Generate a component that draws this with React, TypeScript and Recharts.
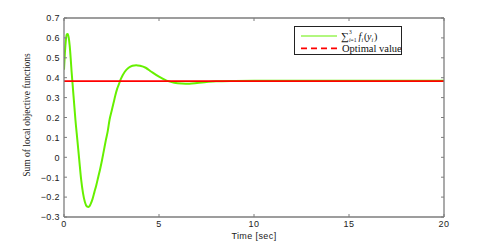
import React from 'react';
import { LineChart, Line, XAxis, YAxis } from 'recharts';

const times = [
  0, 0.05, 0.1, 0.15, 0.2, 0.25, 0.3, 0.35, 0.4, 0.45, 0.5, 0.55, 0.6, 0.7, 0.8, 0.9, 1.0,
  1.1, 1.2, 1.3, 1.4, 1.5, 1.6, 1.7, 1.8, 1.9, 2.0, 2.1, 2.2, 2.3, 2.4, 2.5, 2.6, 2.7, 2.8,
  2.9, 3.0, 3.2, 3.4, 3.6, 3.8, 4.0, 4.3, 4.6, 5.0, 5.4, 5.8, 6.2, 6.6, 7.0, 7.5, 8.0, 9.0,
  10, 12, 14, 16, 18, 20,
];
const sumValues = [
  0.44, 0.53, 0.59, 0.618, 0.62, 0.6, 0.56, 0.5, 0.43, 0.37, 0.31, 0.25, 0.19, 0.09, -0.01,
  -0.11, -0.18, -0.225, -0.247, -0.25, -0.235, -0.21, -0.175, -0.14, -0.1, -0.06, -0.015,
  0.035, 0.085, 0.13, 0.19, 0.23, 0.27, 0.31, 0.345, 0.37, 0.395, 0.43, 0.45, 0.46, 0.463,
  0.46, 0.45, 0.43, 0.405, 0.385, 0.375, 0.371, 0.37, 0.373, 0.378, 0.382, 0.384, 0.385,
  0.385, 0.385, 0.385, 0.385, 0.385,
];
const optimalValue = 0.383;
const xTicks = [0, 5, 10, 15, 20];
const yTicks = [-0.3, -0.2, -0.1, 0, 0.1, 0.2, 0.3, 0.4, 0.5, 0.6, 0.7];

const data = times.map((t, i) => ({ t, sum: sumValues[i], optimal: optimalValue }));

const AXIS = '#7d7d7d';
const GREEN = '#66f000';
const RED = '#ff0000';
const SANS = '"Liberation Sans", Arial, sans-serif';
const SERIF = '"Liberation Serif", "Times New Roman", serif';

const fmt = (v: number) => {
  const s = String(Math.round(v * 10) / 10);
  return s.startsWith('-') ? '\u2212' + s.slice(1) : s;
};

// ticks point into the plot box, labels sit outside
const BottomTick = (props: any) => {
  const { x, y, payload } = props;
  return (
    <g>
      <line x1={x} x2={x} y1={y} y2={y - 3} stroke={AXIS} strokeWidth={1} />
      <text x={x} y={y + 9.5} textAnchor="middle" fontSize={9} letterSpacing={0.4} fontFamily={SANS} fill="#222">
        {fmt(payload.value)}
      </text>
    </g>
  );
};

const TopTick = (props: any) => {
  const { x, y } = props;
  return <line x1={x} x2={x} y1={y} y2={y + 3} stroke={AXIS} strokeWidth={1} />;
};

const LeftTick = (props: any) => {
  const { x, y, payload } = props;
  return (
    <g>
      <line x1={x} x2={x + 3} y1={y} y2={y} stroke={AXIS} strokeWidth={1} />
      <text x={x - 4} y={y + 3.3} textAnchor="end" fontSize={9} letterSpacing={0.4} fontFamily={SANS} fill="#222">
        {fmt(payload.value)}
      </text>
    </g>
  );
};

const RightTick = (props: any) => {
  const { x, y } = props;
  return <line x1={x} x2={x - 3} y1={y} y2={y} stroke={AXIS} strokeWidth={1} />;
};

export default function App() {
  return (
    <div style={{ position: 'absolute', left: 0, top: 0, width: 491, height: 245, background: '#fff' }}>
      <LineChart width={491} height={245} data={data} margin={{ top: 17, right: 46, bottom: 27, left: 63 }}>
        <XAxis
          xAxisId="bottom"
          dataKey="t"
          type="number"
          domain={[0, 20]}
          ticks={xTicks}
          height={1}
          tickSize={0}
          tickMargin={0}
          tickLine={false}
          axisLine={{ stroke: AXIS, strokeWidth: 1.3 }}
          tick={<BottomTick />}
          interval={0}
          allowDataOverflow
        />
        <XAxis
          xAxisId="top"
          orientation="top"
          dataKey="t"
          type="number"
          domain={[0, 20]}
          ticks={xTicks}
          height={1}
          tickSize={0}
          tickMargin={0}
          tickLine={false}
          axisLine={{ stroke: AXIS, strokeWidth: 1.3 }}
          tick={<TopTick />}
          interval={0}
          allowDataOverflow
        />
        <YAxis
          yAxisId="left"
          type="number"
          domain={[-0.3, 0.7]}
          ticks={yTicks}
          width={1}
          tickSize={0}
          tickMargin={0}
          tickLine={false}
          axisLine={{ stroke: AXIS, strokeWidth: 1.3 }}
          tick={<LeftTick />}
          interval={0}
          allowDataOverflow
        />
        <YAxis
          yAxisId="right"
          orientation="right"
          type="number"
          domain={[-0.3, 0.7]}
          ticks={yTicks}
          width={1}
          tickSize={0}
          tickMargin={0}
          tickLine={false}
          axisLine={{ stroke: AXIS, strokeWidth: 1.3 }}
          tick={<RightTick />}
          interval={0}
          allowDataOverflow
        />
        <Line
          xAxisId="bottom"
          yAxisId="left"
          type="monotone"
          dataKey="sum"
          stroke={GREEN}
          strokeWidth={2}
          dot={false}
          isAnimationActive={false}
        />
        <Line
          xAxisId="bottom"
          yAxisId="left"
          type="linear"
          dataKey="optimal"
          stroke={RED}
          strokeWidth={1.8}
          dot={false}
          isAnimationActive={false}
        />
        {/* legend box */}
        <g transform="translate(294,26)">
          <rect x={0.5} y={0.5} width={107} height={28} fill="#fff" stroke="#222" strokeWidth={1} />
          <line x1={7} x2={43} y1={10} y2={10} stroke={GREEN} strokeWidth={1.2} />
          <line x1={7} x2={43} y1={22.3} y2={22.3} stroke={RED} strokeWidth={1.8} strokeDasharray="6 4" />
          <g fontFamily={SERIF} fill="#111">
            <text x={47} y={14} fontSize={11}>{'\u2211'}</text>
            <text x={55} y={8} fontSize={5.5}>3</text>
            <text x={55} y={15.5} fontSize={5.5}>
              <tspan fontStyle="italic">i</tspan>=1
            </text>
            <text x={64.5} y={13.5} fontSize={10} fontStyle="italic">f</text>
            <text x={67.5} y={15.5} fontSize={6} fontStyle="italic">i</text>
            <text x={70} y={13.5} fontSize={10}>(</text>
            <text x={73} y={13.5} fontSize={10} fontStyle="italic">y</text>
            <text x={77.5} y={15.5} fontSize={6} fontStyle="italic">i</text>
            <text x={80} y={13.5} fontSize={10}>)</text>
            <text x={48} y={25.5} fontSize={10.5}>Optimal value</text>
          </g>
        </g>
        <text x={254} y={238.5} textAnchor="middle" fontSize={9} letterSpacing={0.4} fontFamily={SANS} fill="#222">
          Time [sec]
        </text>
        <text
          x={30}
          y={115}
          transform="rotate(-90 30 115)"
          textAnchor="middle"
          fontSize={9.5}
          fontFamily={SERIF}
          fill="#222"
        >
          Sum of local objective functions
        </text>
      </LineChart>
    </div>
  );
}
